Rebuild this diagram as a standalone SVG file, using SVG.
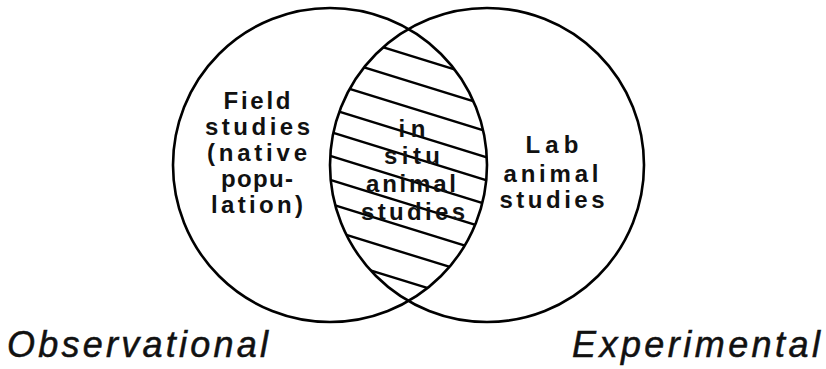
<svg xmlns="http://www.w3.org/2000/svg" width="826" height="369" viewBox="0 0 826 369">
<style>
.ring{fill:none;stroke:#000;stroke-width:2.6}
.hatch{stroke:#000;stroke-width:2.4;fill:none}
.lbl{font-family:"Liberation Sans",Arial,sans-serif;font-weight:bold;font-size:24px;fill:#111;text-anchor:middle}
.cap{font-family:"Liberation Sans",Arial,sans-serif;font-style:italic;font-size:36px;fill:#111;stroke:#111;stroke-width:0.5}
</style>
<defs>
<clipPath id="lens">
<path d="M408.5,29 A157,157 0 0 0 408.5,301 A157,157 0 0 0 408.5,29 Z"/>
</clipPath>
</defs>
<rect width="826" height="369" fill="#fff"/>
<g id="overlap">
<g clip-path="url(#lens)" class="hatch">
<line x1="320" y1="27.7" x2="500" y2="83.5"/>
<line x1="320" y1="53.7" x2="500" y2="109.5"/>
<line x1="320" y1="79.7" x2="500" y2="135.5"/>
<line x1="320" y1="105.7" x2="500" y2="161.5"/>
<line x1="320" y1="128.7" x2="500" y2="184.5"/>
<line x1="320" y1="152.7" x2="500" y2="208.5"/>
<line x1="320" y1="176.7" x2="500" y2="232.5"/>
<line x1="320" y1="200.7" x2="500" y2="256.5"/>
<line x1="320" y1="226.7" x2="500" y2="282.5"/>
<line x1="320" y1="254.7" x2="500" y2="310.5"/>
</g>
<text class="lbl" x="412" y="137" textLength="27" lengthAdjust="spacing">in</text>
<text class="lbl" x="412" y="164" textLength="56" lengthAdjust="spacing">situ</text>
<text class="lbl" x="411" y="192" textLength="90" lengthAdjust="spacing">animal</text>
<text class="lbl" x="413" y="220" textLength="104" lengthAdjust="spacing">studies</text>
</g>
<g id="observational">
<circle class="ring" cx="330" cy="165" r="157"/>
<text class="lbl" x="257" y="109" textLength="67" lengthAdjust="spacing">Field</text>
<text class="lbl" x="257.5" y="135" textLength="105" lengthAdjust="spacing">studies</text>
<text class="lbl" x="257" y="161" textLength="100" lengthAdjust="spacing">(native</text>
<text class="lbl" x="257" y="187" textLength="72" lengthAdjust="spacing">popu-</text>
<text class="lbl" x="257" y="213" textLength="92" lengthAdjust="spacing">lation)</text>
<text class="cap" x="7" y="357" textLength="261" lengthAdjust="spacing">Observational</text>
</g>
<g id="experimental">
<circle class="ring" cx="487" cy="165" r="157"/>
<text class="lbl" x="552" y="153" textLength="53" lengthAdjust="spacing">Lab</text>
<text class="lbl" x="551" y="182" textLength="95" lengthAdjust="spacing">animal</text>
<text class="lbl" x="552" y="208" textLength="105" lengthAdjust="spacing">studies</text>
<text class="cap" x="572" y="357" textLength="248" lengthAdjust="spacing">Experimental</text>
</g>
</svg>
